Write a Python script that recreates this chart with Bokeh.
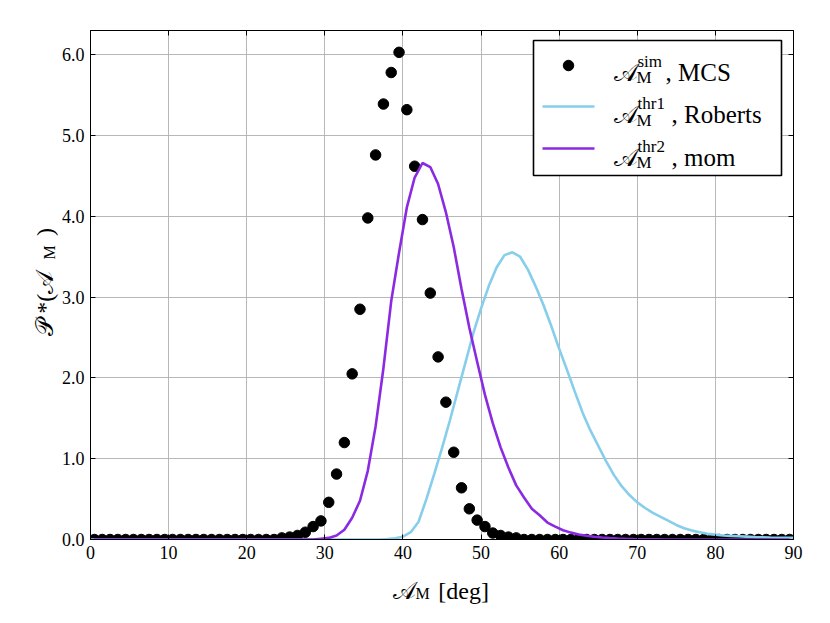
import math
from bokeh.plotting import figure
from bokeh.models import (Range1d, LinearAxis, FixedTicker, NumeralTickFormatter, Label,
                          BoxAnnotation)
from bokeh.embed import file_html
from bokeh.resources import INLINE

# ---------------- data ----------------
mcs_x = [0.5, 1.5, 2.5, 3.5, 4.5, 5.5, 6.5, 7.5, 8.5, 9.5,
         10.5, 11.5, 12.5, 13.5, 14.5, 15.5, 16.5, 17.5, 18.5, 19.5,
         20.5, 21.5, 22.5, 23.5, 24.5, 25.5, 26.5, 27.5, 28.5, 29.5,
         30.5, 31.5, 32.5, 33.5, 34.5, 35.5, 36.5, 37.5, 38.5, 39.5,
         40.5, 41.5, 42.5, 43.5, 44.5, 45.5, 46.5, 47.5, 48.5, 49.5,
         50.5, 51.5, 52.5, 53.5, 54.5, 55.5, 56.5, 57.5, 58.5, 59.5,
         60.5, 61.5, 62.5, 63.5, 64.5, 65.5, 66.5, 67.5, 68.5, 69.5,
         70.5, 71.5, 72.5, 73.5, 74.5, 75.5, 76.5, 77.5, 78.5, 79.5,
         80.5, 81.5, 82.5, 83.5, 84.5, 85.5, 86.5, 87.5, 88.5, 89.5]
mcs_y = [0, 0, 0, 0, 0, 0, 0, 0, 0, 0,
         0, 0, 0, 0, 0, 0, 0, 0, 0, 0,
         0, 0, 0, 0, 0.02, 0.03, 0.05, 0.09, 0.16, 0.23,
         0.46, 0.81, 1.20, 2.05, 2.85, 3.98, 4.76, 5.39, 5.78, 6.03,
         5.32, 4.62, 3.96, 3.05, 2.26, 1.70, 1.08, 0.64, 0.38, 0.24,
         0.16, 0.08, 0.05, 0.03, 0.02, 0, 0, 0, 0, 0,
         0, 0, 0, 0, 0, 0, 0, 0, 0, 0,
         0, 0, 0, 0, 0, 0, 0, 0, 0, 0,
         0, 0, 0, 0, 0, 0, 0, 0, 0, 0]

mom_x = mcs_x
mom_y = [0, 0, 0, 0, 0, 0, 0, 0, 0, 0,
         0, 0, 0, 0, 0, 0, 0, 0, 0, 0,
         0, 0, 0, 0, 0, 0, 0, 0, 0, 0.01,
         0.02, 0.05, 0.12, 0.27, 0.48, 0.85, 1.40, 2.12, 2.95, 3.55,
         4.11, 4.48, 4.66, 4.61, 4.40, 4.05, 3.62, 3.10, 2.62, 2.20,
         1.79, 1.44, 1.14, 0.89, 0.67, 0.52, 0.38, 0.30, 0.21, 0.16,
         0.115, 0.085, 0.063, 0.047, 0.034, 0.025, 0.018, 0.013, 0.009, 0.006,
         0.004, 0.003, 0.002, 0, 0, 0, 0, 0, 0, 0,
         0, 0, 0, 0, 0, 0, 0, 0, 0, 0]

rob_x = [0, 1, 2, 3, 4, 5, 6, 7, 8, 9,
         10, 11, 12, 13, 14, 15, 16, 17, 18, 19,
         20, 21, 22, 23, 24, 25, 26, 27, 28, 29,
         30, 31, 32, 33, 34, 35, 36, 37, 38, 39,
         40, 41, 42, 43, 44, 45, 46, 47, 48, 49,
         50, 51, 52, 53, 54, 55, 56, 57, 58, 59,
         60, 61, 62, 63, 64, 65, 66, 67, 68, 69,
         70, 71, 72, 73, 74, 75, 76, 77, 78, 79,
         80, 81, 82, 83, 84, 85, 86, 87, 88, 89, 90]
rob_y = [0, 0, 0, 0, 0, 0, 0, 0, 0, 0,
         0, 0, 0, 0, 0, 0, 0, 0, 0, 0,
         0, 0, 0, 0, 0, 0, 0, 0, 0, 0,
         0, 0, 0, 0, 0, 0, 0, 0, 0.005, 0.015,
         0.035, 0.09, 0.22, 0.50, 0.81, 1.13, 1.47, 1.83, 2.19, 2.55,
         2.86, 3.14, 3.37, 3.52, 3.555, 3.50, 3.34, 3.13, 2.90, 2.64,
         2.36, 2.10, 1.83, 1.57, 1.35, 1.16, 0.97, 0.80, 0.66, 0.55,
         0.46, 0.39, 0.33, 0.28, 0.23, 0.18, 0.14, 0.11, 0.09, 0.07,
         0.06, 0.05, 0.045, 0.04, 0.035, 0.03, 0.027, 0.024, 0.022, 0.02, 0.02]

x_ticks = [0, 10, 20, 30, 40, 50, 60, 70, 80, 90]
y_ticks = [0, 1, 2, 3, 4, 5, 6]
legend_sups = ["sim", "thr1", "thr2"]
legend_names = ["MCS", "Roberts", "mom"]
SCRIPT_A = "\U0001D49C"
SCRIPT_P = "\U0001D4AB"

# ---------------- layout ----------------
X0, X1, Y0, Y1 = 0, 90, 0, 6.3
FL, FR, FT, FB = 90, 793, 30, 539   # frame edges in page pixels

def dx(px):
    return X0 + (px - FL) / (FR - FL) * (X1 - X0)

def dy(py):
    return Y0 + (FB - py) / (FB - FT) * (Y1 - Y0)

SERIF = "Liberation Serif"
BLUE = "#87CEEB"
PURPLE = "#8A2BE2"

p = figure(frame_width=FR - FL, frame_height=FB - FT,
           min_border_left=FL, min_border_right=35,
           min_border_top=FT, min_border_bottom=83,
           x_range=Range1d(X0, X1), y_range=Range1d(Y0, Y1),
           output_backend="svg", toolbar_location=None, tools="")
p.background_fill_color = "white"
p.border_fill_color = "white"
p.outline_line_color = "black"
p.outline_line_width = 1

xt = FixedTicker(ticks=x_ticks)
yt = FixedTicker(ticks=y_ticks)

def style_axis(ax, ticks=None):
    ax.major_tick_in = 5
    ax.major_tick_out = 0
    ax.minor_tick_line_color = None
    ax.axis_line_color = "black"
    ax.major_tick_line_color = "black"
    ax.major_label_text_font = SERIF
    ax.major_label_text_color = "black"
    ax.major_label_text_font_size = "18px"
    ax.major_label_standoff = 6
    if ticks is not None:
        ax.major_label_overrides = {t: "" for t in ticks}
        ax.major_label_standoff = 0

p.xaxis.ticker = xt
p.yaxis.ticker = yt
p.yaxis.formatter = NumeralTickFormatter(format="0.0")
style_axis(p.xaxis[0])
style_axis(p.yaxis[0])
top_ax = LinearAxis(ticker=FixedTicker(ticks=x_ticks))
right_ax = LinearAxis(ticker=FixedTicker(ticks=y_ticks))
style_axis(top_ax, x_ticks)
style_axis(right_ax, y_ticks)
p.add_layout(top_ax, "above")
p.add_layout(right_ax, "right")

p.xgrid.ticker = xt
p.ygrid.ticker = yt
for g in (p.xgrid[0], p.ygrid[0]):
    g.grid_line_color = "#b0b0b0"
    g.grid_line_width = 0.9

# ---------------- marks ----------------
p.scatter(mcs_x, mcs_y, size=10.5, color="black")
p.line(rob_x, rob_y, line_color=BLUE, line_width=2.6)
p.line(mom_x, mom_y, line_color=PURPLE, line_width=2.6)

# ---------------- legend ----------------
p.add_layout(BoxAnnotation(left=dx(533), right=dx(781), top=dy(40), bottom=dy(175),
                           fill_color="white", fill_alpha=1.0,
                           line_color="black", line_alpha=1.0, line_width=1.6))

def lab(px, py, text, size, angle=0.0, font=SERIF, place="center"):
    lbl = Label(x=dx(px), y=dy(py), text=text, text_font=font,
                text_font_size=f"{size}px", text_color="black",
                text_baseline="alphabetic", text_align="left",
                angle=angle, level="overlay")
    p.add_layout(lbl, place)

p.scatter([dx(568)], [dy(65)], size=10.5, color="black", level="overlay")
p.line([dx(542), dx(594)], [dy(106), dy(106)], line_color=BLUE, line_width=2.6, level="overlay")
p.line([dx(542), dx(594)], [dy(148), dy(148)], line_color=PURPLE, line_width=2.6, level="overlay")

bases = [71.7, 114.0, 156.7]
comma_x = [665, 671, 671]
for base, sup, name, cx in zip(bases, legend_sups, legend_names, comma_x):
    lab(613, base, SCRIPT_A, 25)
    lab(636, base + 5.5, "M", 17)
    lab(637, base - 11, sup, 17)
    lab(cx, base, ", " + name, 25)

# ---------------- axis titles (side panels, so they are not clipped) ----------------
# x title: script A, subscript M, [deg]
lab(392, 590, SCRIPT_A + "\u2002\u2005\u2009[deg]", 24, place="below")
lab(415, 593, "M", 16, place="below")
# y title (rotated): P*(A_M)
A = math.pi / 2
lab(44, 335, SCRIPT_P + "\u2009*(" + SCRIPT_A + "\u2002\u2002\u2005\u2009)", 24, A, place="left")
lab(49, 259, "M", 16, A, place="left")

open("out.html", "w").write(file_html(p, INLINE))
